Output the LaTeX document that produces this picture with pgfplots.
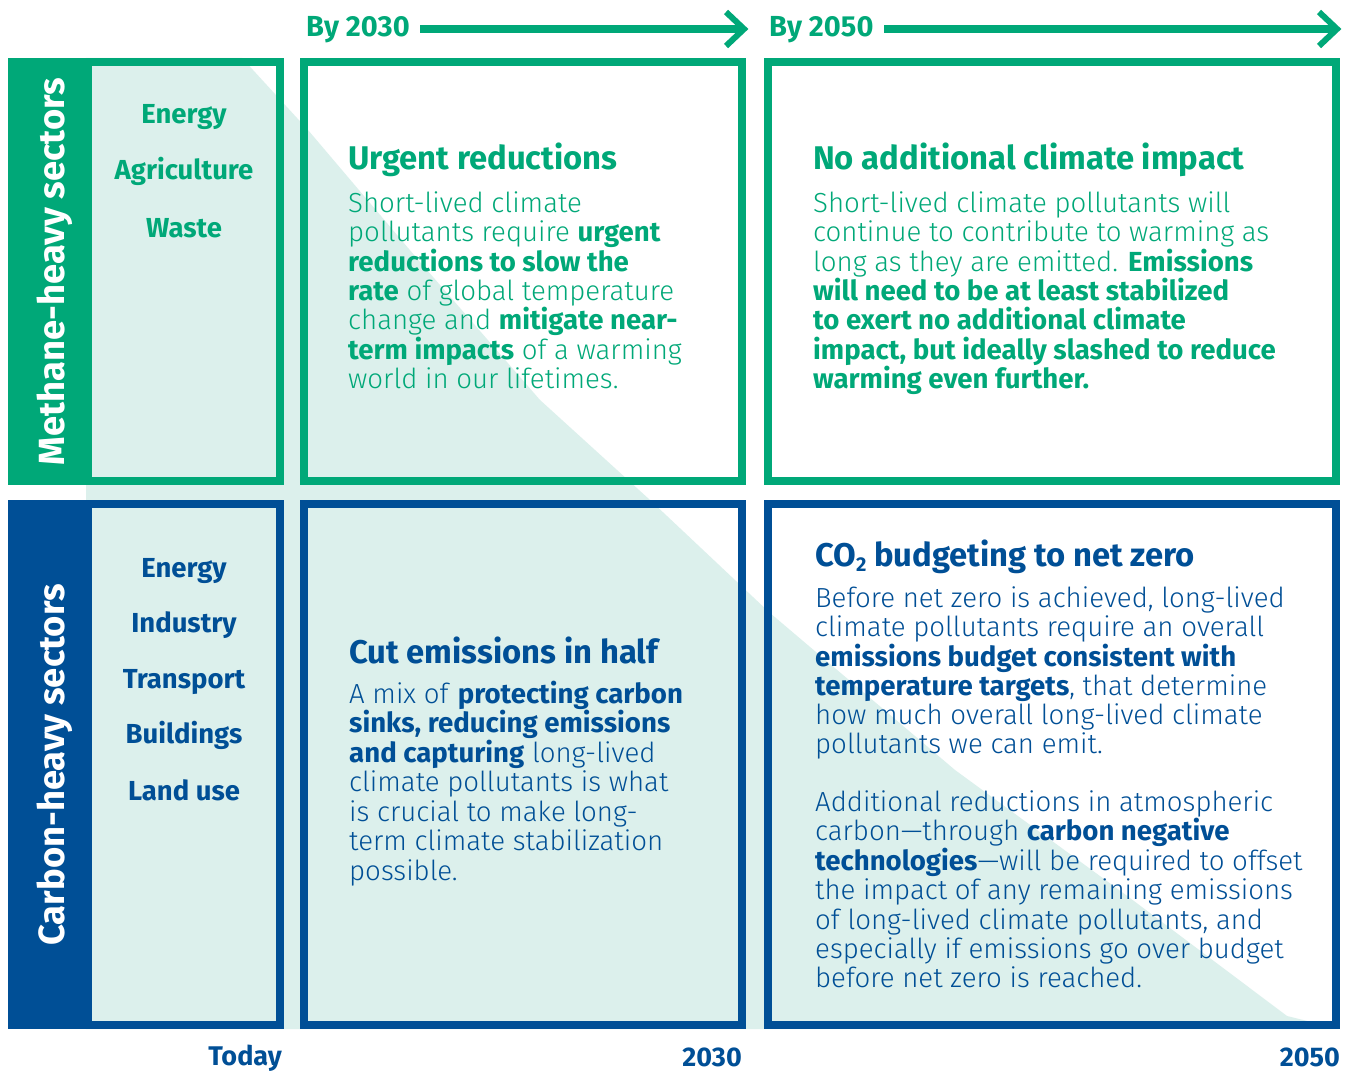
\documentclass[border=0pt]{standalone}
\usepackage{pgfplots}
\pgfplotsset{compat=1.18}
\usepackage{fontspec}
\setmainfont{Fira Sans}[UprightFont={* Light}, BoldFont={* Bold}]
\definecolor{cgreen}{HTML}{00A878}
\definecolor{cblue}{HTML}{004F96}
\definecolor{clight}{HTML}{DCF0EC}
\newcommand\bodyfont{\fontsize{27.6}{29.4}\selectfont}
\newcommand\headfont{\fontsize{32.8}{34}\selectfont\bfseries}
\newcommand\secfont{\fontsize{27.5}{28}\selectfont\bfseries}
\newcommand\topfont{\fontsize{29}{30}\selectfont\bfseries}
\newcommand\botfont{\fontsize{27}{30}\selectfont\bfseries}
\begin{document}
\begin{tikzpicture}
\begin{axis}[scale only axis, width=1351pt, height=1070pt,
  xmin=0, xmax=1351, ymin=0, ymax=1070, y dir=reverse,
  hide axis, clip=false]
% background
\addplot[fill=white, draw=none] coordinates {(0,0)(1351,0)(1351,1070)(0,1070)} -- cycle;
% light diagonal area
\addplot[fill=clight, draw=none] coordinates {(86,58)(242,58)(308,130)(420,262)(540,400)(650,500)(770,613)(955,770)(1130,898)(1287,1016)(1340,1029)(86,1029)} -- cycle;
% side bands
\addplot[fill=cgreen, draw=none] coordinates {(8,58)(92,58)(92,485)(8,485)} -- cycle;
\addplot[fill=cblue, draw=none] coordinates {(8,500)(92,500)(92,1029)(8,1029)} -- cycle;
% green frames
\addplot[draw=cgreen, line width=8pt, line join=miter] coordinates {(88,62)(279.5,62)(279.5,481)(88,481)} -- cycle;
\addplot[draw=cgreen, line width=8pt, line join=miter] coordinates {(304,62)(742,62)(742,481)(304,481)} -- cycle;
\addplot[draw=cgreen, line width=8pt, line join=miter] coordinates {(768,62)(1336,62)(1336,481)(768,481)} -- cycle;
% blue frames
\addplot[draw=cblue, line width=8pt, line join=miter] coordinates {(88,504)(279.5,504)(279.5,1025)(88,1025)} -- cycle;
\addplot[draw=cblue, line width=8pt, line join=miter] coordinates {(304,504)(742,504)(742,1025)(304,1025)} -- cycle;
\addplot[draw=cblue, line width=8pt, line join=miter] coordinates {(768,504)(1336,504)(1336,1025)(768,1025)} -- cycle;
% arrows
\addplot[draw=cgreen, line width=8pt] coordinates {(420,29)(742,29)};
\addplot[draw=cgreen, line width=6pt, line join=miter] coordinates {(726,12)(744,29)(726,46)};
\addplot[draw=cgreen, line width=8pt] coordinates {(884,29)(1336,29)};
\addplot[draw=cgreen, line width=6pt, line join=miter] coordinates {(1319,12)(1337,29)(1319,46)};
% top labels
\node[anchor=base west, inner sep=0, text=cgreen, font=\topfont] at (axis cs:306,37) {By 2030};
\node[anchor=base west, inner sep=0, text=cgreen, font=\topfont] at (axis cs:769,37) {By 2050};
% bottom labels
\node[anchor=base east, inner sep=0, text=cblue, font=\botfont] at (axis cs:282,1065) {Today};
\node[anchor=base east, inner sep=0, text=cblue, font=\botfont] at (axis cs:742,1066) {2030};
\node[anchor=base east, inner sep=0, text=cblue, font=\botfont] at (axis cs:1340,1066) {2050};
% rotated labels
\node[anchor=base, rotate=90, inner sep=0, text=white, font=\fontsize{36.4}{38}\selectfont\bfseries] at (axis cs:64,271.5) {Methane-heavy sectors};
\node[anchor=base, rotate=90, inner sep=0, text=white, font=\fontsize{36.4}{38}\selectfont\bfseries] at (axis cs:64,765) {Carbon-heavy sectors};
% sector lists
\node[anchor=base, inner sep=0, text=cgreen, font=\secfont] at (axis cs:184,124) {Energy};
\node[anchor=base, inner sep=0, text=cgreen, font=\secfont] at (axis cs:184,180) {Agriculture};
\node[anchor=base, inner sep=0, text=cgreen, font=\secfont] at (axis cs:184,237) {Waste};
\node[anchor=base, inner sep=0, text=cblue, font=\secfont] at (axis cs:184,577) {Energy};
\node[anchor=base, inner sep=0, text=cblue, font=\secfont] at (axis cs:184,632) {Industry};
\node[anchor=base, inner sep=0, text=cblue, font=\secfont] at (axis cs:184,688) {Transport};
\node[anchor=base, inner sep=0, text=cblue, font=\secfont] at (axis cs:184,743) {Buildings};
\node[anchor=base, inner sep=0, text=cblue, font=\secfont] at (axis cs:184,800) {Land use};
% box 2 top
\node[anchor=base west, inner sep=0, text=cgreen, font=\headfont] at (axis cs:348,170) {Urgent reductions};
\node[anchor=base west, inner sep=0, text=cgreen, font=\bodyfont] at (axis cs:348,212) {Short-lived climate};
\node[anchor=base west, inner sep=0, text=cgreen, font=\bodyfont] at (axis cs:348,241) {pollutants require \textbf{urgent}};
\node[anchor=base west, inner sep=0, text=cgreen, font=\bodyfont] at (axis cs:348,271) {\textbf{reductions to slow the}};
\node[anchor=base west, inner sep=0, text=cgreen, font=\bodyfont] at (axis cs:348,300) {\textbf{rate} of global temperature};
\node[anchor=base west, inner sep=0, text=cgreen, font=\bodyfont] at (axis cs:348,329) {change and \textbf{mitigate near-}};
\node[anchor=base west, inner sep=0, text=cgreen, font=\bodyfont] at (axis cs:348,359) {\textbf{term impacts} of a warming};
\node[anchor=base west, inner sep=0, text=cgreen, font=\bodyfont] at (axis cs:348,388) {world in our lifetimes.};
% box 3 top
\node[anchor=base west, inner sep=0, text=cgreen, font=\headfont] at (axis cs:813,170) {No additional climate impact};
\node[anchor=base west, inner sep=0, text=cgreen, font=\bodyfont] at (axis cs:813,212) {Short-lived climate pollutants will};
\node[anchor=base west, inner sep=0, text=cgreen, font=\bodyfont] at (axis cs:813,241) {continue to contribute to warming as};
\node[anchor=base west, inner sep=0, text=cgreen, font=\bodyfont] at (axis cs:813,271) {long as they are emitted. \textbf{Emissions}};
\node[anchor=base west, inner sep=0, text=cgreen, font=\bodyfont] at (axis cs:813,300) {\textbf{will need to be at least stabilized}};
\node[anchor=base west, inner sep=0, text=cgreen, font=\bodyfont] at (axis cs:813,329) {\textbf{to exert no additional climate}};
\node[anchor=base west, inner sep=0, text=cgreen, font=\bodyfont] at (axis cs:813,359) {\textbf{impact, but ideally slashed to reduce}};
\node[anchor=base west, inner sep=0, text=cgreen, font=\bodyfont] at (axis cs:813,388) {\textbf{warming even further.}};
% box 2 bottom
\node[anchor=base west, inner sep=0, text=cblue, font=\headfont] at (axis cs:349,663) {Cut emissions in half};
\node[anchor=base west, inner sep=0, text=cblue, font=\bodyfont] at (axis cs:349,703) {A mix of \textbf{protecting carbon}};
\node[anchor=base west, inner sep=0, text=cblue, font=\bodyfont] at (axis cs:349,732) {\textbf{sinks, reducing emissions}};
\node[anchor=base west, inner sep=0, text=cblue, font=\bodyfont] at (axis cs:349,762) {\textbf{and capturing} long-lived};
\node[anchor=base west, inner sep=0, text=cblue, font=\bodyfont] at (axis cs:349,791) {climate pollutants is what};
\node[anchor=base west, inner sep=0, text=cblue, font=\bodyfont] at (axis cs:349,821) {is crucial to make long-};
\node[anchor=base west, inner sep=0, text=cblue, font=\bodyfont] at (axis cs:349,850) {term climate stabilization};
\node[anchor=base west, inner sep=0, text=cblue, font=\bodyfont] at (axis cs:349,880) {possible.};
% box 3 bottom
\node[anchor=base west, inner sep=0, text=cblue, font=\headfont] at (axis cs:815,566) {CO\raisebox{-0.3ex}{\fontsize{20}{20}\selectfont 2} budgeting to net zero};
\node[anchor=base west, inner sep=0, text=cblue, font=\bodyfont] at (axis cs:815,607) {Before net zero is achieved, long-lived};
\node[anchor=base west, inner sep=0, text=cblue, font=\bodyfont] at (axis cs:815,636) {climate pollutants require an overall};
\node[anchor=base west, inner sep=0, text=cblue, font=\bodyfont] at (axis cs:815,666) {\textbf{emissions budget consistent with}};
\node[anchor=base west, inner sep=0, text=cblue, font=\bodyfont] at (axis cs:815,695) {\textbf{temperature targets}, that determine};
\node[anchor=base west, inner sep=0, text=cblue, font=\bodyfont] at (axis cs:815,724) {how much overall long-lived climate};
\node[anchor=base west, inner sep=0, text=cblue, font=\bodyfont] at (axis cs:815,753) {pollutants we can emit.};
\node[anchor=base west, inner sep=0, text=cblue, font=\bodyfont] at (axis cs:815,811) {Additional reductions in atmospheric};
\node[anchor=base west, inner sep=0, text=cblue, font=\bodyfont] at (axis cs:815,840) {carbon—through \textbf{carbon negative}};
\node[anchor=base west, inner sep=0, text=cblue, font=\bodyfont] at (axis cs:815,870) {\textbf{technologies}—will be required to offset};
\node[anchor=base west, inner sep=0, text=cblue, font=\bodyfont] at (axis cs:815,899) {the impact of any remaining emissions};
\node[anchor=base west, inner sep=0, text=cblue, font=\bodyfont] at (axis cs:815,929) {of long-lived climate pollutants, and};
\node[anchor=base west, inner sep=0, text=cblue, font=\bodyfont] at (axis cs:815,958) {especially if emissions go over budget};
\node[anchor=base west, inner sep=0, text=cblue, font=\bodyfont] at (axis cs:815,987) {before net zero is reached.};
\end{axis}
\end{tikzpicture}
\end{document}
